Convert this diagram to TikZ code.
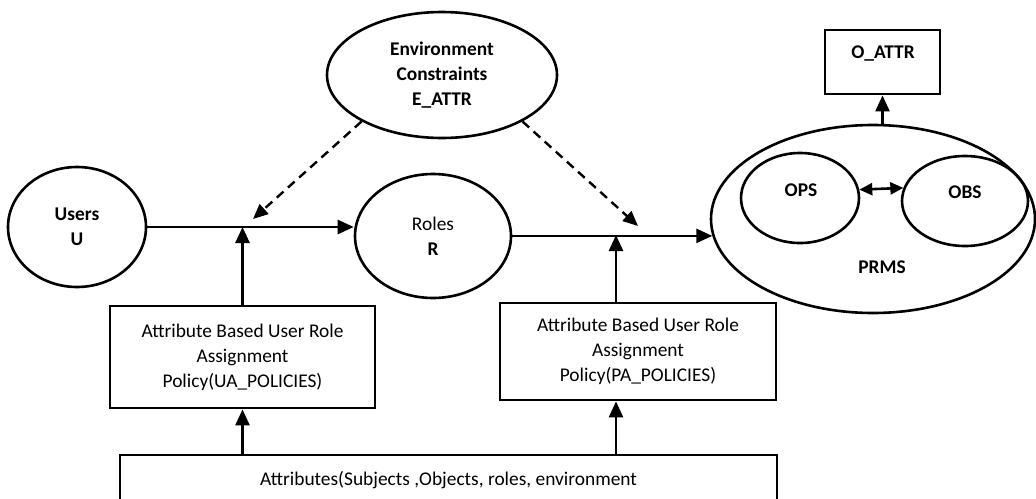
\documentclass[tikz,border=0pt]{standalone}
\usepackage{fontspec}
\setmainfont{Carlito}
\usetikzlibrary{shapes.geometric,arrows.meta}
\begin{document}
\begin{tikzpicture}[x=1pt,y=-1pt,
  oval/.style={draw, ellipse, inner sep=0pt, line width=2.6pt, align=center,
    font=\fontsize{19.4}{25}\selectfont},
  panel/.style={draw, rectangle, inner sep=0pt, line width=2.8pt, align=center,
    font=\fontsize{19.4}{25}\selectfont},
  lbl/.style={inner sep=0pt, align=center, font=\fontsize{19.4}{25}\selectfont\bfseries},
  flow/.style={-{Triangle[length=16pt,width=14pt]}, line width=2.6pt},
  hint/.style={-{Triangle[length=15pt,width=13pt]}, dash pattern=on 9pt off 6pt, line width=2.4pt},
  link/.style={{Triangle[length=13pt,width=12pt]}-{Triangle[length=13pt,width=12pt]}, line width=2.6pt}
]
\useasboundingbox[fill=white] (0,0) rectangle (1036,498);

% entity ellipses
\node[oval, minimum width=138pt, minimum height=120pt] (users) at (77,227) {\bfseries Users\\\bfseries U};
\node[oval, minimum width=156pt, minimum height=124pt] (roles) at (433,236) {Roles\\\bfseries R};
\node[oval, minimum width=230pt, minimum height=126pt] (env) at (442,75)
  {\bfseries Environment\\\bfseries Constraints\\\bfseries E\_ATTR};

% permissions: operations and objects
\node[oval, minimum width=324pt, minimum height=188pt] (prms) at (873,219) {};
\node[lbl] (prmstxt) at (882,267) {PRMS};
\node[oval, minimum width=118pt, minimum height=90pt] (ops) at (800,198) {};
\node[lbl] (opstxt) at (801,190) {OPS};
\node[oval, minimum width=126pt, minimum height=90pt] (obs) at (965,201) {};
\node[lbl] (obstxt) at (965,192) {OBS};

% object attributes
\node[panel, minimum width=115pt, minimum height=64pt] (oattr) at (882.5,62) {};
\node[lbl] (oattrtxt) at (883,53) {O\_ATTR};

% policy boxes
\node[panel, minimum width=265pt, minimum height=102pt] (ua) at (242.5,357)
  {Attribute Based User Role\\Assignment\\Policy(UA\_POLICIES)};
\node[panel, minimum width=276pt, minimum height=97pt] (pa) at (638,351.5)
  {Attribute Based User Role\\Assignment\\Policy(PA\_POLICIES)};
\node[panel, minimum width=657pt, minimum height=50pt] (attr) at (448.5,480)
  {Attributes(Subjects ,Objects, roles, environment};

% assignment relations
\draw[flow] (users.east) -- (users.east -| roles.west);
\draw[flow] (roles.east |- prms.186) -- (prms.186);
\coordinate (j1) at (ua.north |- users.east);
\coordinate (j2) at (616,235);
\draw[flow] (ua.north) -- (j1);
\draw[flow] (pa.north -| j2) -- (j2);
\draw[flow] (attr.north -| ua.south) -- (ua.south);
\draw[flow] (attr.north -| j2) -- (pa.south -| j2);

% environment constraints
\coordinate (d1) at (253,219);
\coordinate (d2) at (638,226);
\draw[hint] (env.210) -- (d1);
\draw[hint] (env.330) -- (d2);

% permission internals
\draw[link] (ops.8) -- (obs.168);
\draw[flow] (oattr.south |- prms.north) -- (oattr.south);
\end{tikzpicture}
\end{document}
